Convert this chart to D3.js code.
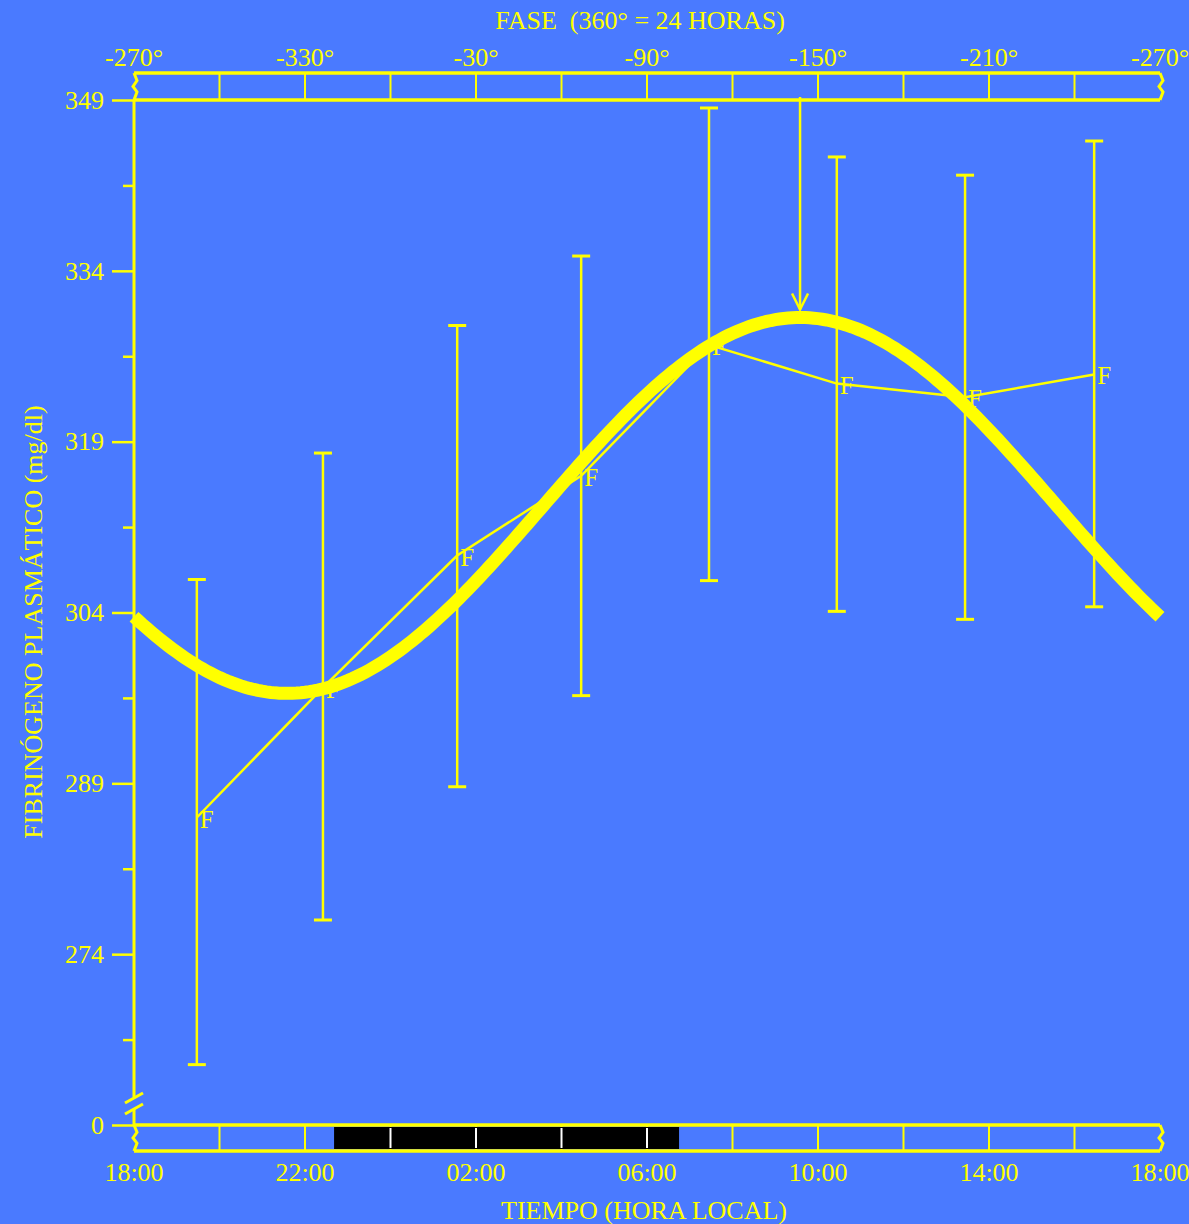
<!DOCTYPE html>
<html>
<head>
<meta charset="utf-8">
<script src="https://cdn.jsdelivr.net/npm/d3@7"></script>
<style>
  html, body { margin: 0; padding: 0; background: #4a7aff; }
  svg { display: block; }
  text { font-family: "Liberation Serif", "Times New Roman", serif; fill: #ffff00; }
</style>
</head>
<body>
<svg width="1189" height="1224"></svg>
<script>
// horas desde las 18:00 de cada muestra
var sampleHours = [1.47, 4.42, 7.56, 10.46, 13.45, 16.44, 19.44, 22.46];
var meanValues  = [286.0, 297.4, 309.0, 316.0, 327.5, 324.1, 322.9, 324.9];
var lowValues   = [264.3, 277.0, 288.7, 296.7, 306.8, 304.1, 303.4, 304.5];
var highValues  = [306.9, 318.0, 329.2, 335.3, 348.3, 344.0, 342.4, 345.4];

// parámetros del cosinor
var MESOR = 313.4;
var AMPLITUDE = 16.5;
var ACROPHASE_HOURS = 15.58;  // horas desde las 18:00 (~09:35)

var yTicks = [349, 334, 319, 304, 289, 274];
var yMinor = [341.5, 326.5, 311.5, 296.5, 281.5, 266.5];
var timeTicks = [0, 4, 8, 12, 16, 20, 24];
var timeLabels = ["18:00", "22:00", "02:00", "06:00", "10:00", "14:00", "18:00"];
var phaseLabels = ["-270°", "-330°", "-30°", "-90°", "-150°", "-210°", "-270°"];
var bandTicks = [2, 4, 6, 8, 10, 12, 14, 16, 18, 20, 22];
var darkStart = 4.68, darkEnd = 12.75;  // periodo de oscuridad

var YEL = "#ffff00";
var FS = 26;
var svg = d3.select("svg");

var x = d3.scaleLinear().domain([0, 24]).range([134, 1160]);
var y = d3.scaleLinear().domain([259, 349]).range([1125, 100]);

// ---- bandas superior e inferior
function band(top, bottom) {
  var g = svg.append("g");
  g.selectAll("line.bt")
    .data(bandTicks)
    .enter().append("line")
      .attr("x1", d => x(d)).attr("x2", d => x(d))
      .attr("y1", top).attr("y2", bottom)
      .attr("stroke", YEL).attr("stroke-width", 2);
  g.append("line").attr("x1", x(0)).attr("x2", x(24)).attr("y1", top).attr("y2", top)
    .attr("stroke", YEL).attr("stroke-width", 3.5);
  g.append("line").attr("x1", x(0)).attr("x2", x(24)).attr("y1", bottom).attr("y2", bottom)
    .attr("stroke", YEL).attr("stroke-width", 3.5);
  var h = bottom - top;
  [x(0), x(24)].forEach(function(x0) {
    g.append("path")
      .attr("d", "M" + x0 + "," + top + " l3," + (h * 0.28) + " l-4," + (h * 0.22) +
                 " l4," + (h * 0.2) + " l-3," + (h * 0.3))
      .attr("fill", "none").attr("stroke", YEL).attr("stroke-width", 3);
  });
  return g;
}
band(73, 100);
band(1125, 1151);

// barra de oscuridad
svg.append("rect")
  .attr("x", x(darkStart)).attr("y", 1127)
  .attr("width", x(darkEnd) - x(darkStart)).attr("height", 22)
  .attr("fill", "#000");
svg.selectAll("line.wt")
  .data(bandTicks.filter(d => d > darkStart && d < darkEnd))
  .enter().append("line")
    .attr("x1", d => x(d)).attr("x2", d => x(d))
    .attr("y1", 1128).attr("y2", 1148)
    .attr("stroke", "#fff").attr("stroke-width", 2);

// etiquetas de fase y tiempo
svg.selectAll("text.phase")
  .data(timeTicks)
  .enter().append("text")
    .attr("x", d => x(d)).attr("y", 66)
    .attr("text-anchor", "middle").attr("font-size", FS)
    .text((d, i) => phaseLabels[i]);
svg.selectAll("text.time")
  .data(timeTicks)
  .enter().append("text")
    .attr("x", d => x(d)).attr("y", 1181)
    .attr("text-anchor", "middle").attr("font-size", FS)
    .text((d, i) => timeLabels[i]);

svg.append("text").attr("x", 640).attr("y", 29).attr("text-anchor", "middle")
  .attr("font-size", FS).attr("xml:space", "preserve").text("FASE  (360° = 24 HORAS)");
svg.append("text").attr("x", 644).attr("y", 1219).attr("text-anchor", "middle")
  .attr("font-size", FS).text("TIEMPO (HORA LOCAL)");
svg.append("text")
  .attr("transform", "translate(42,622) rotate(-90)")
  .attr("text-anchor", "middle").attr("font-size", FS)
  .text("FIBRINÓGENO PLASMÁTICO (mg/dl)");

// ---- eje Y
var yAxis = svg.append("g").attr("transform", "translate(134,0)")
  .call(d3.axisLeft(y).tickValues(yTicks.concat([259])).tickSize(22).tickPadding(8)
        .tickFormat(d => d === 259 ? "0" : d));
yAxis.select(".domain").remove();
yAxis.selectAll(".tick line").attr("stroke", YEL).attr("stroke-width", 2.5);
yAxis.selectAll(".tick text").attr("font-size", FS).attr("fill", YEL)
  .attr("font-family", "Liberation Serif, serif");

var yAxisMinor = svg.append("g").attr("transform", "translate(134,0)")
  .call(d3.axisLeft(y).tickValues(yMinor).tickSize(11).tickFormat(""));
yAxisMinor.select(".domain").remove();
yAxisMinor.selectAll(".tick line").attr("stroke", YEL).attr("stroke-width", 2.5);

// línea del eje con corte
svg.append("line").attr("x1", 134).attr("x2", 134).attr("y1", y(349)).attr("y2", 1097)
  .attr("stroke", YEL).attr("stroke-width", 3);
svg.append("line").attr("x1", 134).attr("x2", 134).attr("y1", 1109).attr("y2", 1125)
  .attr("stroke", YEL).attr("stroke-width", 3);
[[125, 1103, 143, 1093], [125, 1114, 143, 1104]].forEach(function(s) {
  svg.append("line").attr("x1", s[0]).attr("y1", s[1]).attr("x2", s[2]).attr("y2", s[3])
    .attr("stroke", YEL).attr("stroke-width", 3);
});

// ---- barras de error
var pts = sampleHours.map((h, i) => ({h: h, m: meanValues[i], lo: lowValues[i], hi: highValues[i]}));

var eb = svg.append("g").attr("stroke", YEL);
eb.selectAll("line.v").data(pts).enter().append("line")
  .attr("x1", d => x(d.h)).attr("x2", d => x(d.h))
  .attr("y1", d => y(d.hi)).attr("y2", d => y(d.lo))
  .attr("stroke-width", 2.5);
eb.selectAll("line.t").data(pts).enter().append("line")
  .attr("x1", d => x(d.h) - 9).attr("x2", d => x(d.h) + 9)
  .attr("y1", d => y(d.hi)).attr("y2", d => y(d.hi))
  .attr("stroke-width", 3);
eb.selectAll("line.b").data(pts).enter().append("line")
  .attr("x1", d => x(d.h) - 9).attr("x2", d => x(d.h) + 9)
  .attr("y1", d => y(d.lo)).attr("y2", d => y(d.lo))
  .attr("stroke-width", 3);

// línea de medias
svg.append("path")
  .datum(pts)
  .attr("d", d3.line().x(d => x(d.h)).y(d => y(d.m)))
  .attr("fill", "none").attr("stroke", YEL).attr("stroke-width", 2.5);

svg.selectAll("text.f").data(pts).enter().append("text")
  .attr("x", d => x(d.h) + 3).attr("y", d => y(d.m) + 10)
  .attr("font-size", 25).text("F");

// ---- curva cosinor
var curveHours = d3.range(0, 24.001, 0.1);
svg.append("path")
  .datum(curveHours)
  .attr("d", d3.line()
    .x(h => x(h))
    .y(h => y(MESOR + AMPLITUDE * Math.cos(2 * Math.PI * (h - ACROPHASE_HOURS) / 24))))
  .attr("fill", "none").attr("stroke", YEL).attr("stroke-width", 13);

// flecha de acrofase
var ax = x(ACROPHASE_HOURS);
var ay = y(MESOR + AMPLITUDE) - 8;
svg.append("line").attr("x1", ax).attr("x2", ax).attr("y1", 97).attr("y2", ay)
  .attr("stroke", YEL).attr("stroke-width", 2.5);
svg.append("path")
  .attr("d", "M" + (ax - 8) + "," + (ay - 16) + " L" + ax + "," + ay + " L" + (ax + 8) + "," + (ay - 16))
  .attr("fill", "none").attr("stroke", YEL).attr("stroke-width", 2.5);
</script>
</body>
</html>
